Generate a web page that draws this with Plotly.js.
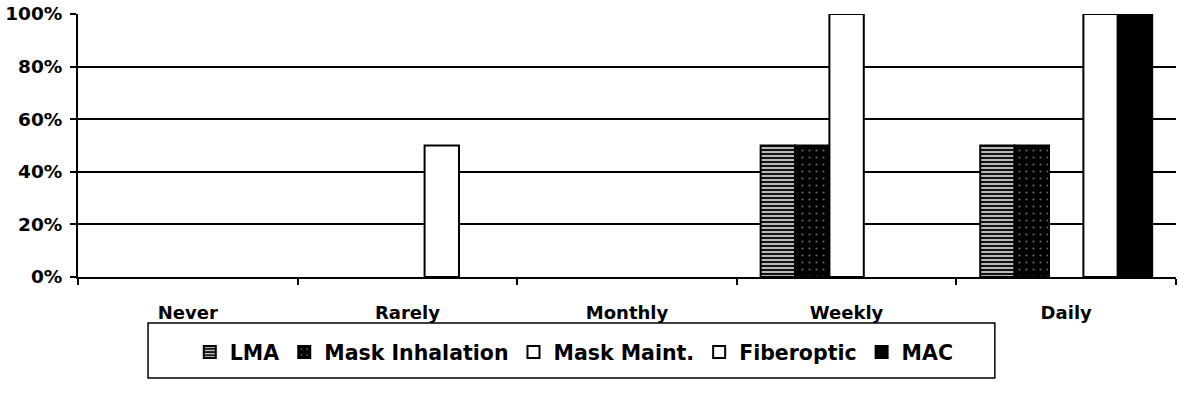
<!DOCTYPE html>
<html>
<head>
<meta charset="utf-8">
<script src="https://cdn.plot.ly/plotly-3.0.1.min.js"></script>
<style>html,body{margin:0;padding:0;background:#fff;}#chart{width:1179px;height:403px;}</style>
</head>
<body>
<div id="chart"></div>
<script>
const categories = ["Never", "Rarely", "Monthly", "Weekly", "Daily"];
const seriesNames = ["LMA", "Mask Inhalation", "Mask Maint.", "Fiberoptic", "MAC"];
const lma = [0, 0, 0, 50, 50];
const maskInhalation = [0, 0, 0, 50, 50];
const maskMaint = [0, 0, 0, 100, 0];
const fiberoptic = [0, 50, 0, 0, 100];
const mac = [0, 0, 0, 0, 100];
const yTickVals = [0, 20, 40, 60, 80, 100];
const yTickText = ["0%", "20%", "40%", "60%", "80%", "100%"];

const FONT = "DejaVu Sans, Liberation Sans, Arial, sans-serif";
const allValues = [lma, maskInhalation, maskMaint, fiberoptic, mac];
// zero-height bars are not drawn (avoids an outline sitting on the axis)
const shown = vals => vals.map(v => v > 0 ? v : null);
const markers = [
  {color: "#000", pattern: {shape: "-", fgcolor: "#fff", bgcolor: "#111", size: 4, solidity: 0.35}},
  {color: "#000", pattern: {shape: ".", fgcolor: "#666", bgcolor: "#000", size: 7, solidity: 0.08}},
  {color: "#fff"},
  {color: "#fff"},
  {color: "#000"}
];
const traces = seriesNames.map((n, i) => ({
  type: "bar", name: n, x: categories, y: shown(allValues[i]), hoverinfo: "skip",
  marker: Object.assign({}, markers[i], {line: {color: "#000", width: 2}})
}));

const layout = {
  width: 1179, height: 403,
  margin: {l: 78, r: 3, t: 14, b: 126},
  paper_bgcolor: "#fff", plot_bgcolor: "#fff",
  barmode: "group", bargap: 0.217, bargroupgap: 0,
  font: {family: FONT, color: "#000"},
  xaxis: {
    type: "category", showgrid: false, showline: true, linecolor: "#000", linewidth: 2,
    ticks: "outside", tickson: "boundaries", ticklen: 6, tickwidth: 2, tickcolor: "#000",
    tickfont: {family: FONT, size: 18, weight: "bold"}, ticklabelstandoff: 18
  },
  yaxis: {
    range: [0, 100], tickvals: yTickVals, ticktext: yTickText,
    showgrid: true, gridcolor: "#000", gridwidth: 2,
    showline: true, linecolor: "#000", linewidth: 2, zeroline: false,
    ticks: "outside", ticklen: 6, tickwidth: 2, tickcolor: "#000",
    tickfont: {family: FONT, size: 18.5, weight: "bold"}, ticklabelstandoff: 4
  },
  showlegend: true,
  legend: {
    orientation: "h", x: 0.452, xanchor: "center", y: -0.21, yanchor: "top",
    font: {family: FONT, size: 20.5, weight: "bold"}, bgcolor: "rgba(0,0,0,0)",
    borderwidth: 0, itemwidth: 30, itemclick: false
  },
  shapes: [{
    type: "rect", xref: "paper", yref: "paper",
    x0: 0.0638, x1: 0.835, y0: -0.175, y1: -0.384,
    line: {color: "#000", width: 1.5}, fillcolor: "rgba(0,0,0,0)"
  }]
};
Plotly.newPlot("chart", traces, layout, {staticPlot: true, displayModeBar: false});
</script>
</body>
</html>
